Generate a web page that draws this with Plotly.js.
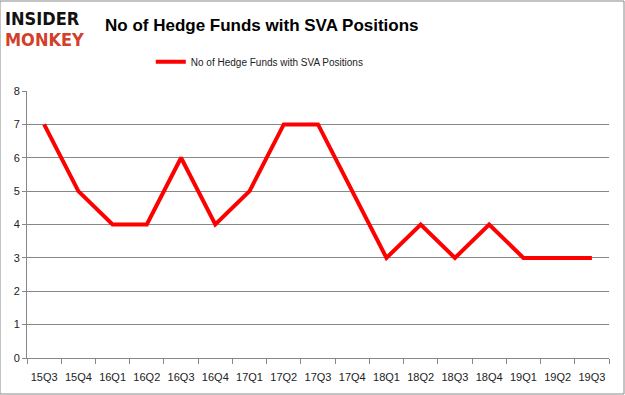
<!DOCTYPE html>
<html><head><meta charset="utf-8">
<script src="https://cdn.plot.ly/plotly-3.0.1.min.js"></script>
<style>body{margin:0;padding:0;background:#fff}#chart{width:625px;height:395px}</style>
</head><body><div id="chart"></div>
<script>
const quarters = ["15Q3","15Q4","16Q1","16Q2","16Q3","16Q4","17Q1","17Q2","17Q3","17Q4","18Q1","18Q2","18Q3","18Q4","19Q1","19Q2","19Q3"];
const hedgeFunds = [7,5,4,4,6,4,5,7,7,5,3,4,3,4,3,3,3];
const seriesName = "No of Hedge Funds with SVA Positions";
const yTicks = [0,1,2,3,4,5,6,7,8];

const trace = {
  x: quarters, y: hedgeFunds, type: "scatter", mode: "lines",
  name: seriesName,
  line: {color: "#ff0000", width: 4}
};
const layout = {
  width: 625, height: 395,
  margin: {l: 27, r: 16, t: 91, b: 37},
  paper_bgcolor: "#fff", plot_bgcolor: "#fff",
  font: {family: "Liberation Sans, Arial, sans-serif", size: 11, color: "#222"},
  showlegend: true,
  legend: {orientation: "h", x: 0.40, xanchor: "center", y: 1.11, yanchor: "middle",
           font: {size: 10, color: "#222"}},
  xaxis: {type: "category", range: [-0.5, 16.5], tickson: "boundaries", tickangle: 0,
          ticks: "outside", ticklen: 5, tickcolor: "#888", showgrid: false,
          showline: true, linecolor: "#888", linewidth: 1, ticklabelstandoff: 9,
          tickfont: {size: 11, color: "#222"}},
  yaxis: {range: [0, 8], tickvals: yTicks, showgrid: true, gridcolor: "#888", gridwidth: 1,
          ticks: "outside", ticklen: 4, tickcolor: "#888",
          showline: true, linecolor: "#888", zeroline: false,
          tickfont: {size: 11, color: "#222"}},
  annotations: [
    {text: "<b>No of Hedge Funds with SVA Positions</b>", xref: "paper", yref: "paper",
     x: (103-27)/582, y: 1 + (91-25)/267, xanchor: "left", yanchor: "middle", showarrow: false,
     font: {size: 17, color: "#000", family: "Liberation Sans, Arial, sans-serif"}},
    {text: "<b>INSIDER</b>", xref: "paper", yref: "paper",
     x: (3-27)/582, y: 1 + (91-18)/267, xanchor: "left", yanchor: "middle", showarrow: false,
     font: {size: 18, color: "#111", family: "DejaVu Sans Condensed, DejaVu Sans, sans-serif"}},
    {text: "<b>MONKEY</b>", xref: "paper", yref: "paper",
     x: (3-27)/582, y: 1 + (91-40)/267, xanchor: "left", yanchor: "middle", showarrow: false,
     font: {size: 18, color: "#d2402a", family: "DejaVu Sans Condensed, DejaVu Sans, sans-serif"}}
  ],
  shapes: [
    {type: "rect", xref: "paper", yref: "paper", x0: -27/582, x1: 1 + 15/582, y0: -36/267, y1: 1 + 90/267,
     line: {color: "#888", width: 1}}
  ]
};
Plotly.newPlot("chart", [trace], layout, {displayModeBar: false, staticPlot: true});
</script></body></html>
